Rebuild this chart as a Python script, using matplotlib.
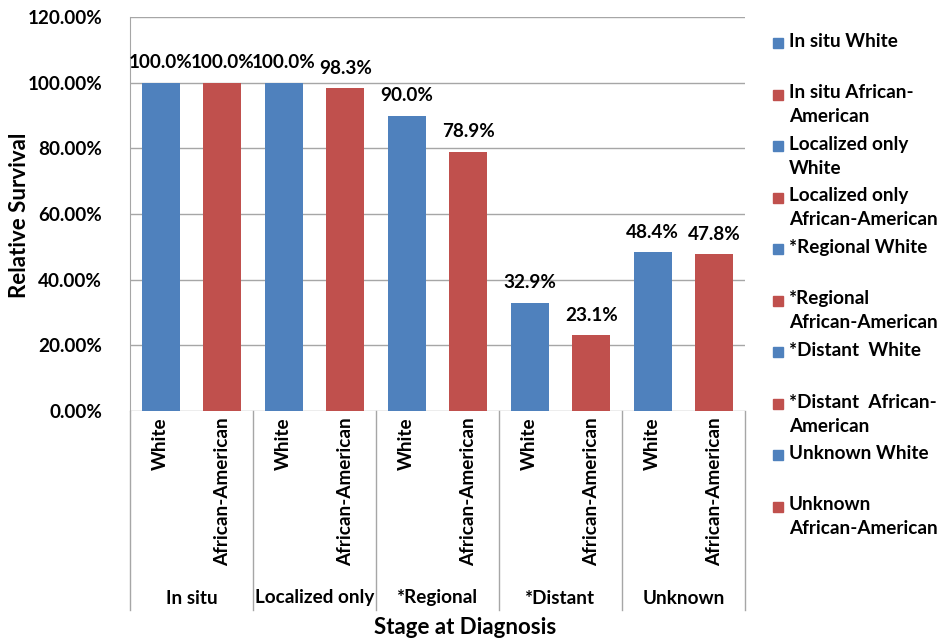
import matplotlib.pyplot as plt
from matplotlib.patches import Rectangle

# data
stages = ['In situ', 'Localized only', '*Regional', '*Distant', 'Unknown']
races = ['White', 'African-American']
white = [100.0, 100.0, 90.0, 32.9, 48.4]
african_american = [100.0, 98.3, 78.9, 23.1, 47.8]
legend_labels = ['In situ White', 'In situ African-\nAmerican', 'Localized only\nWhite',
                 'Localized only\nAfrican-American', '*Regional White', '*Regional\nAfrican-American',
                 '*Distant  White', '*Distant  African-\nAmerican', 'Unknown White',
                 'Unknown\nAfrican-American']
yticks = [0, 20, 40, 60, 80, 100, 120]

blue = '#4F81BD'
red = '#C0504D'
grid_c = '#A6A6A6'
font = 'Lato'
fs = 13.6

plt.rcParams['font.family'] = [font, 'DejaVu Sans']
plt.rcParams['font.weight'] = 'bold'

fig = plt.figure(figsize=(9.4, 6.41), dpi=100)
W, H = 940, 641
ax = fig.add_axes([130 / W, 1 - 411 / H, 615 / W, 394 / H])

values = []
colors = []
for w, a in zip(white, african_american):
    values += [w, a]
    colors += [blue, red]
xs = list(range(len(values)))
ax.bar(xs, values, width=0.62, color=colors, zorder=3)

for x, v in zip(xs, values):
    ax.text(x, v + 3.5, f'{v:.1f}%', ha='center', va='bottom', fontsize=fs, fontweight='bold')

ax.set_xlim(-0.5, len(values) - 0.5)
ax.set_ylim(0, 120)
ax.set_yticks(yticks)
ax.set_yticklabels([f'{t:.2f}%' for t in yticks], fontsize=fs, fontweight='bold')
ax.tick_params(axis='y', length=0, pad=20)
ax.set_xticks([])
ax.grid(axis='y', color=grid_c, linewidth=1, zorder=0)
for s in ['top', 'right', 'bottom']:
    ax.spines[s].set_visible(False)
ax.spines['left'].set_color(grid_c)

# category axis: separators, race labels, stage labels
trans = ax.get_xaxis_transform()
for i in range(len(stages) + 1):
    ax.plot([i * 2 - 0.5, i * 2 - 0.5], [0, -199 / 394], transform=trans,
            color=grid_c, linewidth=1, clip_on=False)
for i, st in enumerate(stages):
    for j, r in enumerate(races):
        ax.text(i * 2 + j, -6 / 394, r, transform=trans, rotation=90, ha='center', va='top',
                fontsize=fs, fontweight='bold')
    ax.text(i * 2 + 0.5, -187 / 394, st, transform=trans, ha='center', va='center',
            fontsize=fs, fontweight='bold')

fig.text(465 / W, 1 - 627 / H, 'Stage at Diagnosis', ha='center', va='center',
         fontsize=16, fontweight='bold')
fig.text(20 / W, 1 - 215 / H, 'Relative Survival', ha='center', va='center', rotation=90,
         fontsize=16, fontweight='bold')

# legend, drawn by hand like the Excel one
for k, lab in enumerate(legend_labels):
    yc = 43 + k * 51.5
    fig.patches.append(Rectangle((773 / W, 1 - (yc + 5) / H), 10 / W, 10 / H,
                                 transform=fig.transFigure, color=blue if k % 2 == 0 else red))
    fig.text(789 / W, 1 - (yc - 10) / H, lab, ha='left', va='top', fontsize=fs,
             fontweight='bold', linespacing=1.5)

fig.savefig('out.png', dpi=100)
